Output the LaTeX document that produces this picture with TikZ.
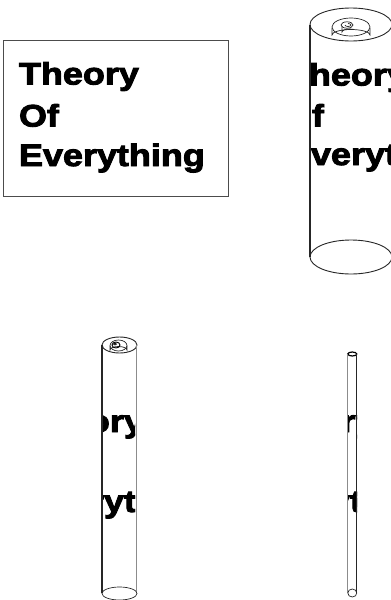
\documentclass[tikz,border=0pt]{standalone}
\usepackage{fontspec}
\setmainfont[BoldFeatures={FakeStretch=1.16,FakeBold=3}]{Liberation Sans}
\tikzset{
  lbl/.style={inner sep=0pt,outer sep=0pt,anchor=base west,font=\fontsize{31}{31}\selectfont\bfseries},
  ln/.style={line width=1.1pt,black!85},
  gl/.style={line width=1.1pt,black!45},
  th/.style={line width=0.7pt,black!85}
}
\begin{document}
\begin{tikzpicture}[x=1pt,y=-1pt]
\useasboundingbox (0,0) rectangle (391,600);
% flat sheet
\draw[line width=0.8pt,black!70] (3.5,40.5) rectangle (228,196.5);
\node[lbl] (t1) at (19,84.5) {Theory};
\node[lbl] (t2) at (19,126.5) {Of};
\node[lbl] (t3) at (19,166) {Everything};
% first roll
\begin{scope}
\clip (310,0) rectangle (391,300);
\node[lbl] (a1) at (287,85.5) {Theory};
\node[lbl] (a2) at (284,126.5) {Of};
\node[lbl] (a3) at (287,165) {Everything};
\end{scope}
\draw[line width=0.9pt,black!85] (351,24.5) ellipse [x radius=41,y radius=16.5];
\draw[th] (332,28) -- (332,35) arc[start angle=180,end angle=360,x radius=19,y radius=5.5] -- (370,28);
\draw[th] (351,27) ellipse [x radius=19,y radius=9];
\draw[th] (342,26) -- (342,32) arc[start angle=180,end angle=300,x radius=8,y radius=3];
\draw[th] (347,25) ellipse [x radius=6,y radius=3.2];
\draw[th] (345,25) arc[start angle=180,end angle=-90,x radius=3,y radius=1.5];
\draw[ln] (310,25) -- (310,257);
\draw[line width=0.9pt,black!85] (351,257) ellipse [x radius=41,y radius=17];
% second roll
\begin{scope}
\clip (103,340) rectangle (135,600);
\node[lbl] (b1) at (24,432) {Theory};
\node[lbl] (b2) at (26,512) {Everything};
\end{scope}
\draw[line width=0.9pt,black!85] (119.5,345) ellipse [x radius=17.5,y radius=8];
\draw[th] (110,346) -- (110,350) arc[start angle=180,end angle=360,x radius=8.5,y radius=3.5] -- (127,346);
\draw[th] (118.5,345.5) ellipse [x radius=8.5,y radius=5.5];
\draw[line width=0.9pt,black] (116,345) ellipse [x radius=4,y radius=3];
\draw[line width=0.7pt,black] (115,344) ellipse [x radius=1.5,y radius=1];
\draw[ln] (102,345) -- (102,593);
\draw[gl] (136.5,345) -- (136.5,593);
\draw[th] (119.5,593.5) ellipse [x radius=17.5,y radius=6.5];
% third roll
\begin{scope}
\clip (348,400) rectangle (357,530);
\node[lbl] (c1) at (255.5,432) {Theory};
\node[lbl] (c2) at (252,512) {Everything};
\end{scope}
\draw[line width=1.2pt,black] (352.3,354) ellipse [x radius=4.5,y radius=2];
\draw[gl] (347.8,354) -- (347.8,593);
\draw[ln] (356.8,354) -- (356.8,593);
\draw[th] (352.3,593) ellipse [x radius=4.5,y radius=4];
\end{tikzpicture}
\end{document}
